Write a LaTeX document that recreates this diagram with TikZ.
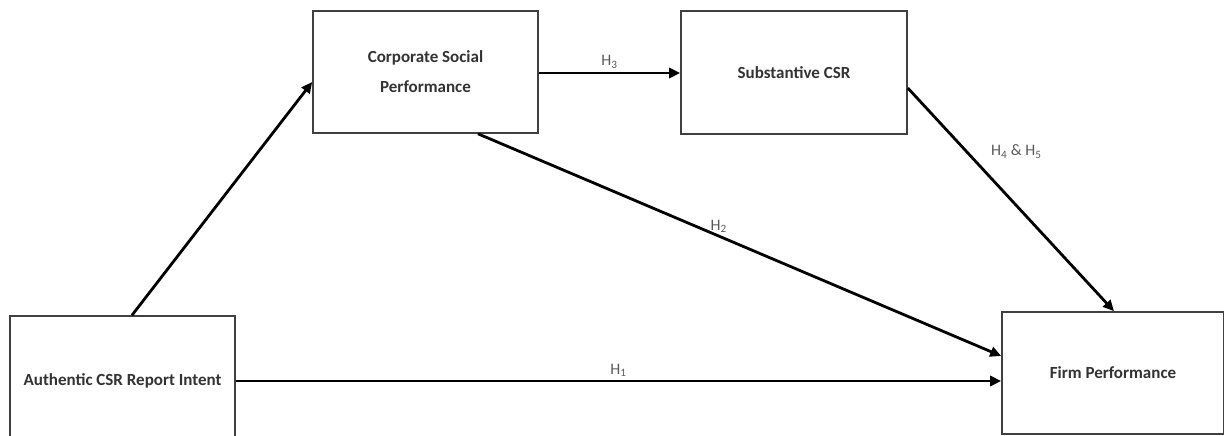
\documentclass[tikz,border=0pt]{standalone}
\usepackage{fontspec}
\setmainfont{Carlito}
\usetikzlibrary{arrows.meta}
\begin{document}
\begin{tikzpicture}[x=1pt,y=-1pt,
  box/.style={draw=black!75,line width=1.6pt,fill=white,inner sep=0pt,align=center,
    font=\fontsize{17}{30}\selectfont\bfseries,text=black!80},
  conn/.style={line width=2.8pt,-{Triangle[length=11pt,width=10pt]}},
  lab/.style={font=\fontsize{16}{18}\selectfont,text=black!65,inner sep=1pt}]
\useasboundingbox (0,0) rectangle (1224,436);
\node[box,minimum width=225pt,minimum height=122pt] (csp) at (425.5,72) {Corporate Social\\Performance};
\node[box,minimum width=226pt,minimum height=123pt] (sub) at (794,72.5) {Substantive CSR};
\node[box,minimum width=225pt,minimum height=130pt] (auth) at (122.5,381) {Authentic CSR Report Intent};
\node[box,minimum width=222pt,minimum height=122pt] (firm) at (1113,373) {Firm Performance};
\draw[conn] (auth.north -| 132,0) -- (csp.west |- 0,82);
\draw[conn] (csp.east |- 0,73) -- (sub.west |- 0,73) node[lab,midway,above=2pt] {H\textsubscript{3}};
\draw[conn] (csp.south -| 478,0) -- (firm.west |- 0,356) node[lab,pos=0.46,above=1pt] {H\textsubscript{2}};
\draw[conn] (sub.east |- 0,88) -- (firm.north -| 1114,0) node[lab,pos=0.286,anchor=west,xshift=22pt] {H\textsubscript{4} \& H\textsubscript{5}};
\draw[conn] (auth.east |- 0,381) -- (firm.west |- 0,381) node[lab,midway,above=2pt] {H\textsubscript{1}};
\end{tikzpicture}
\end{document}
